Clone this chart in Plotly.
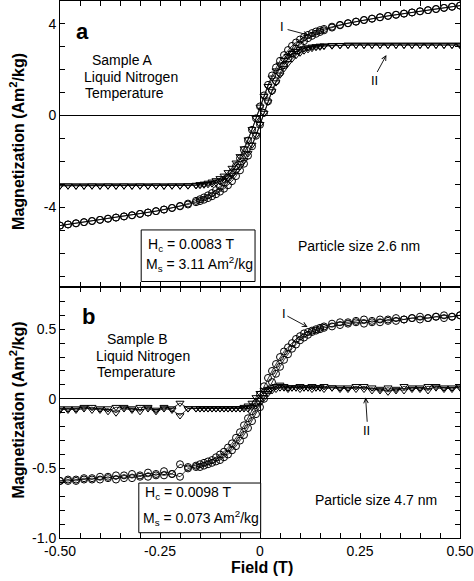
import plotly.graph_objects as go

# ---------------- data ----------------
field_T = [-0.50, -0.48, -0.46, -0.44, -0.42, -0.40, -0.38, -0.36, -0.34, -0.32, -0.30, -0.28, -0.26, -0.24, -0.22,
           -0.20, -0.18, -0.16,
           -0.15, -0.14, -0.13, -0.12, -0.11, -0.10, -0.09, -0.08, -0.07, -0.06, -0.05, -0.04, -0.03, -0.02, -0.01,
           0.00,
           0.01, 0.02, 0.03, 0.04, 0.05, 0.06, 0.07, 0.08, 0.09, 0.10, 0.11, 0.12, 0.13, 0.14, 0.15,
           0.16, 0.18, 0.20,
           0.22, 0.24, 0.26, 0.28, 0.30, 0.32, 0.34, 0.36, 0.38, 0.40, 0.42, 0.44, 0.46, 0.48, 0.50]

# Panel a, curve I (circles)
a_I_up = [-4.80, -4.75, -4.70, -4.65, -4.60, -4.55, -4.50, -4.45, -4.40, -4.35, -4.29, -4.23, -4.17, -4.10, -4.03,
          -3.96, -3.88, -3.78,
          -3.73, -3.67, -3.60, -3.52, -3.43, -3.32, -3.19, -3.04, -2.86, -2.64, -2.39, -2.10, -1.75, -1.34, -0.88,
          -0.40,
          0.12, 0.62, 1.09, 1.50, 1.87, 2.20, 2.48, 2.72, 2.93, 3.10, 3.25, 3.38, 3.48, 3.57, 3.65,
          3.72, 3.84, 3.94,
          4.03, 4.10, 4.17, 4.23, 4.29, 4.35, 4.40, 4.45, 4.50, 4.55, 4.60, 4.65, 4.70, 4.75, 4.80]
a_I_down = [-4.80, -4.75, -4.70, -4.65, -4.60, -4.55, -4.50, -4.45, -4.40, -4.35, -4.29, -4.23, -4.17, -4.10, -4.03,
            -3.94, -3.84, -3.72,
            -3.65, -3.57, -3.48, -3.38, -3.25, -3.10, -2.93, -2.72, -2.48, -2.20, -1.87, -1.50, -1.09, -0.62, -0.12,
            0.40,
            0.88, 1.34, 1.75, 2.10, 2.39, 2.64, 2.86, 3.04, 3.19, 3.32, 3.43, 3.52, 3.60, 3.67, 3.73,
            3.78, 3.88, 3.96,
            4.03, 4.10, 4.17, 4.23, 4.29, 4.35, 4.40, 4.45, 4.50, 4.55, 4.60, 4.65, 4.70, 4.75, 4.80]
# Panel a, curve II (triangles)
a_II_up = [-3.06, -3.06, -3.07, -3.06, -3.06, -3.07, -3.06, -3.06, -3.06, -3.07, -3.06, -3.06, -3.06, -3.07, -3.06,
           -3.06, -3.06, -3.05,
           -3.04, -3.02, -3.00, -2.97, -2.93, -2.88, -2.81, -2.72, -2.59, -2.42, -2.22, -1.96, -1.65, -1.28, -0.85,
           -0.38,
           0.11, 0.60, 1.05, 1.44, 1.78, 2.06, 2.29, 2.48, 2.63, 2.74, 2.83, 2.89, 2.94, 2.98, 3.00,
           3.03, 3.05, 3.07,
           3.08, 3.08, 3.08, 3.08, 3.08, 3.08, 3.08, 3.08, 3.08, 3.08, 3.08, 3.08, 3.08, 3.08, 3.08]
a_II_down = [-3.06, -3.06, -3.06, -3.07, -3.06, -3.06, -3.06, -3.07, -3.06, -3.06, -3.06, -3.07, -3.06, -3.06, -3.06,
             -3.06, -3.05, -3.03,
             -3.00, -2.98, -2.94, -2.89, -2.83, -2.74, -2.63, -2.48, -2.29, -2.06, -1.78, -1.44, -1.05, -0.60, -0.11,
             0.38,
             0.85, 1.28, 1.65, 1.96, 2.22, 2.42, 2.59, 2.72, 2.81, 2.88, 2.93, 2.97, 3.00, 3.02, 3.04,
             3.05, 3.07, 3.07,
             3.08, 3.08, 3.08, 3.08, 3.08, 3.08, 3.08, 3.08, 3.08, 3.08, 3.08, 3.08, 3.08, 3.08, 3.08]

# Panel b, curve I (circles)
b_I_up = [-0.59, -0.59, -0.58, -0.58, -0.57, -0.58, -0.56, -0.58, -0.55, -0.57, -0.55, -0.56, -0.54, -0.55, -0.54,
          -0.56, -0.50, -0.49,
          -0.49, -0.48, -0.47, -0.46, -0.45, -0.44, -0.42, -0.40, -0.37, -0.34, -0.30, -0.26, -0.21, -0.16, -0.11,
          -0.06,
          0.00, 0.06, 0.12, 0.18, 0.23, 0.28, 0.32, 0.36, 0.39, 0.42, 0.44, 0.46, 0.48, 0.49, 0.50,
          0.51, 0.52, 0.53,
          0.54, 0.55, 0.54, 0.56, 0.55, 0.57, 0.56, 0.57, 0.58, 0.57, 0.58, 0.59, 0.58, 0.59, 0.60]
b_I_down = [-0.59, -0.58, -0.59, -0.57, -0.58, -0.56, -0.57, -0.55, -0.57, -0.54, -0.56, -0.53, -0.55, -0.52, -0.54,
            -0.47, -0.49, -0.48,
            -0.47, -0.46, -0.45, -0.44, -0.42, -0.40, -0.38, -0.35, -0.32, -0.28, -0.24, -0.19, -0.14, -0.09, -0.03,
            0.03,
            0.09, 0.15, 0.20, 0.25, 0.30, 0.34, 0.37, 0.40, 0.43, 0.45, 0.47, 0.48, 0.49, 0.50, 0.51,
            0.52, 0.54, 0.55,
            0.55, 0.56, 0.57, 0.55, 0.57, 0.56, 0.58, 0.57, 0.58, 0.59, 0.58, 0.59, 0.60, 0.59, 0.60]
# Panel b, curve II (triangles)
b_II_up = [-0.07, -0.08, -0.07, -0.06, -0.08, -0.07, -0.09, -0.06, -0.07, -0.08, -0.06, -0.07, -0.09, -0.07, -0.08,
           -0.12, -0.07, -0.07,
           -0.07, -0.07, -0.07, -0.07, -0.07, -0.07, -0.07, -0.07, -0.07, -0.07, -0.07, -0.07, -0.07, -0.06, -0.05,
           -0.03,
           0.01, 0.04, 0.06, 0.07, 0.08, 0.08, 0.07, 0.08, 0.08, 0.07, 0.08, 0.08, 0.07, 0.08, 0.08,
           0.07, 0.08, 0.07,
           0.08, 0.07, 0.09, 0.06, 0.07, 0.05, 0.07, 0.06, 0.08, 0.07, 0.09, 0.08, 0.07, 0.08, 0.08]
b_II_down = [-0.08, -0.07, -0.08, -0.07, -0.06, -0.08, -0.07, -0.10, -0.06, -0.07, -0.09, -0.06, -0.08, -0.06, -0.07,
             -0.03, -0.07, -0.07,
             -0.07, -0.07, -0.07, -0.07, -0.07, -0.07, -0.07, -0.07, -0.07, -0.07, -0.07, -0.06, -0.05, -0.03, 0.01,
             0.04,
             0.06, 0.07, 0.08, 0.09, 0.10, 0.09, 0.08, 0.08, 0.08, 0.09, 0.08, 0.08, 0.09, 0.08, 0.08,
             0.09, 0.08, 0.08,
             0.07, 0.09, 0.07, 0.08, 0.06, 0.08, 0.06, 0.09, 0.07, 0.08, 0.06, 0.09, 0.08, 0.07, 0.09]

# ticks
x_tickvals = [-0.50, -0.45, -0.40, -0.35, -0.30, -0.25, -0.20, -0.15, -0.10, -0.05, 0.00,
              0.05, 0.10, 0.15, 0.20, 0.25, 0.30, 0.35, 0.40, 0.45, 0.50]
x_ticktext = ["-0.50", "", "", "", "", "-0.25", "", "", "", "", "0",
              "", "", "", "", "0.25", "", "", "", "", "0.50"]
ya_tickvals = [-7, -6, -5, -4, -3, -2, -1, 0, 1, 2, 3, 4, 5]
ya_ticktext = ["", "", "", "-4", "", "", "", "0", "", "", "", "4", ""]
yb_tickvals = [-1.0, -0.9, -0.8, -0.7, -0.6, -0.5, -0.4, -0.3, -0.2, -0.1, 0.0,
               0.1, 0.2, 0.3, 0.4, 0.5, 0.6, 0.7, 0.8]
yb_ticktext = ["-1.0", "", "", "", "", "-0.5", "", "", "", "", "0",
               "", "", "", "", "0.5", "", "", ""]

# ---------------- figure ----------------
FONT = "Liberation Sans, Arial, sans-serif"
fig = go.Figure()

def add(y, xa, ya, symbol):
    fig.add_trace(go.Scatter(
        x=field_T, y=y, xaxis=xa, yaxis=ya, mode="lines+markers",
        line=dict(color="black", width=0.8),
        marker=dict(symbol=symbol, size=7, color="black", line=dict(color="black", width=1)),
        showlegend=False, cliponaxis=True))

add(a_I_up, "x", "y", "circle-open")
add(a_I_down, "x", "y", "circle-open")
add(a_II_up, "x", "y", "triangle-down-open")
add(a_II_down, "x", "y", "triangle-down-open")
add(b_I_up, "x2", "y2", "circle-open")
add(b_I_down, "x2", "y2", "circle-open")
add(b_II_up, "x2", "y2", "triangle-down-open")
add(b_II_down, "x2", "y2", "triangle-down-open")

split = 251 / 538
XR = [-0.50001, 0.50001]

axis_common = dict(showline=True, linecolor="black", linewidth=1, mirror="ticks",
                   ticks="inside", ticklen=5, tickcolor="black", tickwidth=1,
                   showgrid=False, zeroline=True, zerolinecolor="black", zerolinewidth=1,
                   tickfont=dict(family=FONT, size=14, color="black"), tickmode="array",
                   ticklabeloverflow="allow")

fig.update_layout(
    width=474, height=581,
    margin=dict(l=60, r=12, t=0, b=43),
    paper_bgcolor="white", plot_bgcolor="white",
    font=dict(family=FONT, color="black"),
    xaxis=dict(axis_common, domain=[0, 1], range=XR, anchor="y",
               tickvals=x_tickvals, ticktext=[""] * len(x_tickvals)),
    yaxis=dict(axis_common, domain=[split, 1], range=[-7.5, 5], anchor="x",
               tickvals=ya_tickvals, ticktext=ya_ticktext),
    xaxis2=dict(axis_common, domain=[0, 1], range=XR, anchor="y2",
                tickvals=x_tickvals, ticktext=x_ticktext),
    yaxis2=dict(axis_common, domain=[0, split], range=[-1.0, 0.8], anchor="x2",
                tickvals=yb_tickvals, ticktext=yb_ticktext),
)

# boxes
fig.add_shape(type="rect", xref="x", yref="y", x0=-0.297, x1=-0.0124, y0=-7.24, y1=-4.99,
              line=dict(color="black", width=1), fillcolor="white", layer="above")
fig.add_shape(type="rect", xref="x2", yref="y2", x0=-0.303, x1=0.0017, y0=-0.962, y1=-0.605,
              line=dict(color="black", width=1), fillcolor="white", layer="above")

def txt(x, y, text, xref, yref, size=14, bold=False, xanchor="center"):
    fig.add_annotation(x=x, y=y, xref=xref, yref=yref, text=("<b>%s</b>" % text) if bold else text,
                       showarrow=False, xanchor=xanchor, yanchor="middle",
                       font=dict(family=FONT, size=size, color="black"))

# panel a texts
txt(-0.444, 3.69, "a", "x", "y", size=22, bold=True)
txt(-0.343, 2.43, "Sample A", "x", "y")
txt(-0.322, 1.69, "Liquid Nitrogen", "x", "y")
txt(-0.338, 0.97, "Temperature", "x", "y")
txt(0.248, -5.71, "Particle size 2.6 nm", "x", "y")
txt(-0.286, -5.63, "H<sub>c</sub> = 0.0083 T", "x", "y", xanchor="left")
txt(-0.291, -6.48, "M<sub>s</sub> = 3.11 Am<sup>2</sup>/kg", "x", "y", xanchor="left")
txt(0.0547, 3.87, "I", "x", "y", size=13)
txt(0.286, 1.52, "II", "x", "y", size=13)

# panel b texts
txt(-0.429, 0.589, "b", "x2", "y2", size=22, bold=True)
txt(-0.306, 0.427, "Sample B", "x2", "y2")
txt(-0.292, 0.306, "Liquid Nitrogen", "x2", "y2")
txt(-0.310, 0.191, "Temperature", "x2", "y2")
txt(0.290, -0.727, "Particle size 4.7 nm", "x2", "y2")
txt(-0.293, -0.677, "H<sub>c</sub> = 0.0098 T", "x2", "y2", xanchor="left")
txt(-0.297, -0.856, "M<sub>s</sub> = 0.073 Am<sup>2</sup>/kg", "x2", "y2", xanchor="left")
txt(0.059, 0.612, "I", "x2", "y2", size=13)
txt(0.266, -0.225, "II", "x2", "y2", size=13)

# arrows
def arrow(x, y, ax, ay, xref, yref):
    fig.add_annotation(x=x, y=y, xref=xref, yref=yref, ax=ax, ay=ay, text="",
                       showarrow=True, arrowhead=5, arrowsize=1.0, arrowwidth=0.9,
                       arrowcolor="black")

arrow(0.122, 3.51, -22.7, -6, "x", "y")
arrow(0.316, 2.64, -10, 18.4, "x", "y")
arrow(0.119, 0.516, -21.7, -11.7, "x2", "y2")
arrow(0.264, 0.009, 1.7, 25.7, "x2", "y2")

# axis titles
for yc in (0.738, 0.238):
    fig.add_annotation(x=-0.107, y=yc, xref="paper", yref="paper", textangle=-90,
                       text="<b>Magnetization (Am<sup>2</sup>/kg)</b>", showarrow=False,
                       xanchor="center", yanchor="middle",
                       font=dict(family=FONT, size=16, color="black"))
fig.add_annotation(x=0.505, y=-0.0558, xref="paper", yref="paper", text="<b>Field (T)</b>",
                   showarrow=False, xanchor="center", yanchor="middle",
                   font=dict(family=FONT, size=16, color="black"))

fig.write_html("out.html", config={"displayModeBar": False},
               post_script="document.body.style.margin='0';document.body.style.padding='0';")
